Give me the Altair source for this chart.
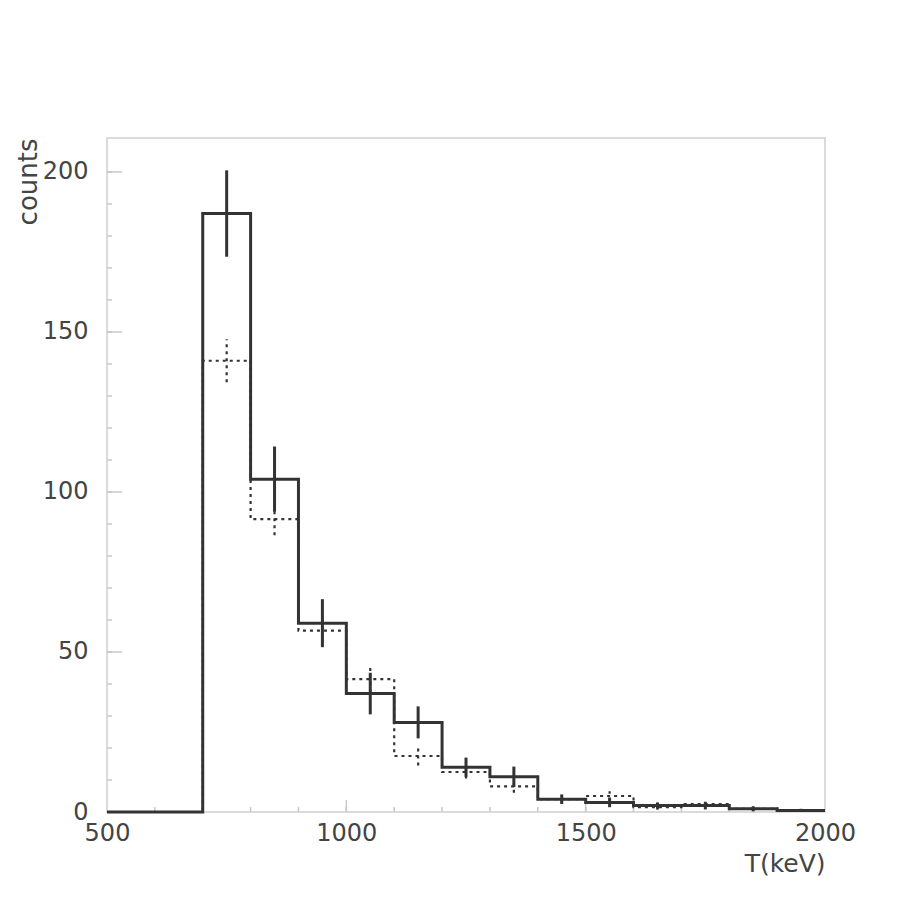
import altair as alt
import pandas as pd

# ---- data ----
bin_lo = [500, 600, 700, 800, 900, 1000, 1100, 1200, 1300, 1400, 1500, 1600, 1700, 1800, 1900]
bin_width = 100
solid_counts = [0, 0, 187, 104, 59, 37, 28, 14, 11, 4, 3, 2, 2, 1, 0.5]
solid_err = [0, 0, 13.5, 10.2, 7.5, 6.5, 5.0, 3.0, 3.2, 1.5, 1.5, 1.0, 1.2, 0.8, 0.5]
dotted_counts = [0, 0, 141, 91.5, 56.7, 41.5, 17.5, 12.5, 8, 4, 5, 1.5, 2.5, 1, 0.4]
dotted_err = [0, 0, 6.7, 5.0, 4.0, 4.0, 3.0, 2.0, 2.0, 1.2, 1.5, 0.8, 1.0, 0.6, 0.4]

y_major = [0, 50, 100, 150, 200]
y_minor = list(range(10, 210, 10))
x_major = [500, 1000, 1500, 2000]
x_minor = list(range(600, 2000, 100))

X_DOMAIN = [500, 2000]
Y_DOMAIN = [0, 210.6]

# ---- tables ----
def step_table(counts, name):
    xs = bin_lo + [bin_lo[-1] + bin_width]
    ys = counts + [counts[-1]]
    return pd.DataFrame({"x": xs, "y": ys, "series": name})

solid_df = step_table(solid_counts, "solid")
dotted_df = step_table(dotted_counts, "dotted")

def err_table(counts, errs):
    rows = []
    for lo, c, e in zip(bin_lo, counts, errs):
        if c > 0 and e > 0:
            rows.append({"xc": lo + bin_width / 2, "lo": c - e, "hi": c + e})
    return pd.DataFrame(rows)

solid_err_df = err_table(solid_counts, solid_err)
dotted_err_df = err_table(dotted_counts, dotted_err)

xs = alt.Scale(domain=X_DOMAIN, nice=False, zero=False)
ys = alt.Scale(domain=Y_DOMAIN, nice=False, zero=False)

FONT = "DejaVu Sans"
LINE = "#333333"
TICK = "#c8c8c8"
TEXT = "#444444"

x_axis = alt.Axis(values=x_major, format="d", ticks=False, tickSize=0, domain=False, grid=False,
                  labelFlush=False, labelOverlap=False,
                  labelFontSize=24, labelFont=FONT, labelColor=TEXT, labelPadding=9,
                  title="T(keV)", titleFont=FONT, titleFontSize=25, titleFontWeight="normal",
                  titleColor=TEXT, titleAnchor="end", titleAlign="right", titleBaseline="middle",
                  titleX=718, titleY=51)
y_axis = alt.Axis(values=y_major, ticks=False, tickSize=0, domain=False, grid=False,
                  labelFlush=False, labelOverlap=False,
                  labelFontSize=24, labelFont=FONT, labelColor=TEXT, labelPadding=19,
                  title="counts", titleFont=FONT, titleFontSize=26, titleFontWeight="normal",
                  titleColor=TEXT, titleAngle=270, titleAlign="right", titleBaseline="middle",
                  titleAnchor="end", titleX=-79, titleY=0)

solid_line = alt.Chart(solid_df).mark_line(
    interpolate="step-after", color=LINE, strokeWidth=3
).encode(
    x=alt.X("x:Q", scale=xs, axis=x_axis),
    y=alt.Y("y:Q", scale=ys, axis=y_axis),
)

dotted_line = alt.Chart(dotted_df).mark_line(
    interpolate="step-after", color=LINE, strokeWidth=2.2, strokeDash=[3, 4]
).encode(
    x=alt.X("x:Q", scale=xs),
    y=alt.Y("y:Q", scale=ys),
)

solid_errs = alt.Chart(solid_err_df).mark_rule(color=LINE, strokeWidth=3).encode(
    x=alt.X("xc:Q", scale=xs),
    y=alt.Y("lo:Q", scale=ys),
    y2="hi:Q",
)

dotted_errs = alt.Chart(dotted_err_df).mark_rule(color=LINE, strokeWidth=2.2, strokeDash=[3, 4]).encode(
    x=alt.X("xc:Q", scale=xs),
    y=alt.Y("lo:Q", scale=ys),
    y2="hi:Q",
)

ymaj_df = pd.DataFrame({"v": y_major[1:]})
ymin_df = pd.DataFrame({"v": y_minor})
xmaj_df = pd.DataFrame({"v": x_major[1:-1]})
xmin_df = pd.DataFrame({"v": x_minor})

y_major_ticks = alt.Chart(ymaj_df).mark_rule(color=TICK, strokeWidth=1.5).encode(
    y=alt.Y("v:Q", scale=ys), x=alt.value(0), x2=alt.value(15))
y_minor_ticks = alt.Chart(ymin_df).mark_rule(color=TICK, strokeWidth=1.5).encode(
    y=alt.Y("v:Q", scale=ys), x=alt.value(0), x2=alt.value(5))
x_major_ticks = alt.Chart(xmaj_df).mark_rule(color=TICK, strokeWidth=1.5).encode(
    x=alt.X("v:Q", scale=xs), y=alt.value(674), y2=alt.value(662))
x_minor_ticks = alt.Chart(xmin_df).mark_rule(color=TICK, strokeWidth=1.5).encode(
    x=alt.X("v:Q", scale=xs), y=alt.value(674), y2=alt.value(669))

chart = alt.layer(
    y_minor_ticks, y_major_ticks, x_minor_ticks, x_major_ticks,
    dotted_line, dotted_errs, solid_line, solid_errs,
).properties(
    width=718, height=674,
    autosize=alt.AutoSizeParams(type="none"),
    padding={"left": 107, "top": 138, "right": 79, "bottom": 87},
    background="white",
).configure_view(
    stroke="#d0d0d0", strokeWidth=1.5
)

chart.save("out.html", embed_options={"renderer": "svg", "actions": False})
